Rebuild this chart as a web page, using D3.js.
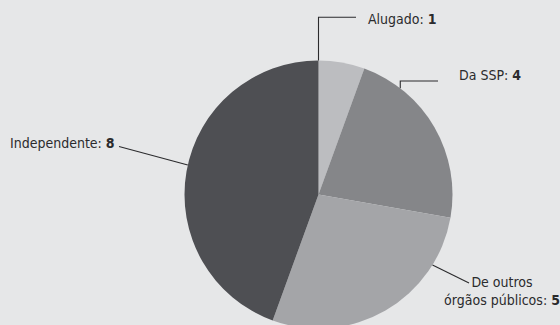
<!DOCTYPE html>
<html>
<head>
<meta charset="utf-8">
<script src="https://cdn.jsdelivr.net/npm/d3@7"></script>
<style>
  html, body { margin: 0; padding: 0; background: #e6e7e8; }
  svg { display: block; }
  text { font-family: "Liberation Sans Narrow", "DejaVu Sans Condensed", "Open Sans", sans-serif; font-stretch: condensed; fill: #2b2b2d; }
</style>
</head>
<body>
<svg id="chart" width="560" height="325"></svg>
<script>
// Origem dos imóveis ocupados
const categories = ["Alugado", "Da SSP", "De outros órgãos públicos", "Independente"];
const labelLines = [["Alugado: "], ["Da SSP: "], ["De outros", "órgãos públicos: "], ["Independente: "]];
const values = [1, 4, 5, 8];
const colors = ["#bcbdc0", "#858689", "#a4a5a8", "#4e4f53"];

const W = 560, H = 325;
const cx = 318.5, cy = 194.5, R = 134;

const svg = d3.select("#chart");
svg.append("rect").attr("width", W).attr("height", H).attr("fill", "#e6e7e8");

const pie = d3.pie().sort(null).value(d => d);
const arcs = pie(values);
const arc = d3.arc().innerRadius(0).outerRadius(R);

const g = svg.append("g").attr("transform", `translate(${cx},${cy})`);
g.selectAll("path").data(arcs).join("path")
  .attr("d", arc)
  .attr("fill", (d, i) => colors[i]);

// where each leader starts along its slice (0 = start angle, 1 = end angle)
const anchorFrac = [0, 0.22, 0.217, 0.517];
// leader path bends and label placement, relative to the chart
const leaders = [
  { via: [[null, 17.3]], end: [356, 17.3], text: [368, 24], anchor: "start" },
  { via: [[null, 81]], end: [438, 81], text: [459, 80], anchor: "start" },
  { via: [], end: [469, 283], text: [502, 287], anchor: "middle" },
  { via: [], end: [119, 146.5], text: [10, 148], anchor: "start" }
];

arcs.forEach((a, i) => {
  const ang = a.startAngle + (a.endAngle - a.startAngle) * anchorFrac[i];
  const p0 = [cx + R * Math.sin(ang), cy - R * Math.cos(ang)];
  const L = leaders[i];
  const pts = [p0];
  L.via.forEach(v => pts.push([v[0] == null ? p0[0] : v[0], v[1]]));
  pts.push(L.end);
  svg.append("path")
    .attr("d", d3.line()(pts))
    .attr("fill", "none")
    .attr("stroke", "#2b2b2d")
    .attr("stroke-width", 1.1);

  const t = svg.append("text")
    .attr("x", L.text[0]).attr("y", L.text[1])
    .attr("text-anchor", L.anchor)
    .attr("font-size", 14);
  const lines = labelLines[i];
  lines.forEach((ln, k) => {
    const ts = t.append("tspan").attr("x", L.text[0]).attr("dy", k === 0 ? 0 : 18).text(ln);
    if (k === lines.length - 1) {
      ts.append("tspan").attr("font-weight", "bold").text(values[i]);
    }
  });
});
</script>
</body>
</html>
